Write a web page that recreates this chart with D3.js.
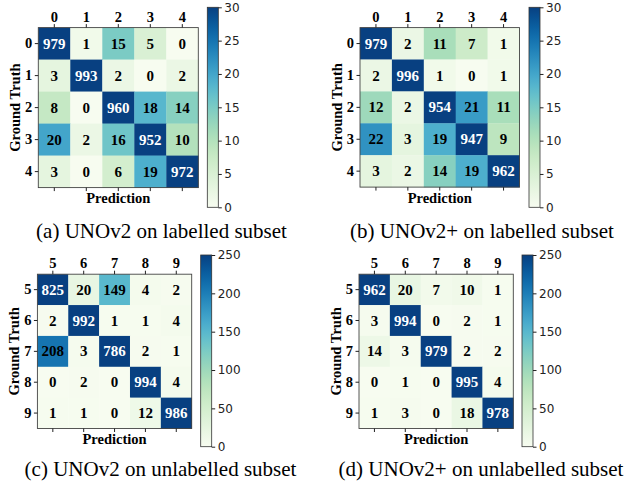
<!DOCTYPE html>
<html>
<head>
<meta charset="utf-8">
<script src="https://cdn.jsdelivr.net/npm/d3@7"></script>
<style>
  body { margin: 0; background: #fff; }
  svg { display: block; }
  .serif { font-family: "Liberation Serif", "Times New Roman", serif; }
  .cbar text { font-family: "DejaVu Sans", sans-serif; font-size: 12px; fill: #222; }
  .cbar line { stroke: #222; }
  .mat .tick line { stroke: #222; }
  .mat .domain { display: none; }
</style>
</head>
<body>
<svg width="629" height="481"></svg>
<script>
var labelsLabelled = ["0", "1", "2", "3", "4"];
var labelsUnlabelled = ["5", "6", "7", "8", "9"];

var cmA = [[979, 1, 15, 5, 0], [3, 993, 2, 0, 2], [8, 0, 960, 18, 14], [20, 2, 16, 952, 10], [3, 0, 6, 19, 972]];
var cmB = [[979, 2, 11, 7, 1], [2, 996, 1, 0, 1], [12, 2, 954, 21, 11], [22, 3, 19, 947, 9], [3, 2, 14, 19, 962]];
var cmC = [[825, 20, 149, 4, 2], [2, 992, 1, 1, 4], [208, 3, 786, 2, 1], [0, 2, 0, 994, 4], [1, 1, 0, 12, 986]];
var cmD = [[962, 20, 7, 10, 1], [3, 994, 0, 2, 1], [14, 3, 979, 2, 2], [0, 1, 0, 995, 4], [1, 3, 0, 18, 978]];

var vmaxLabelled = 30, vmaxUnlabelled = 250;
var ticksLabelled = [0, 5, 10, 15, 20, 25, 30];
var ticksUnlabelled = [0, 50, 100, 150, 200, 250];

var captions = ["(a) UNOv2 on labelled subset", "(b) UNOv2+ on labelled subset",
                "(c) UNOv2 on unlabelled subset", "(d) UNOv2+ on unlabelled subset"];

var panels = [
  {cm: cmA, labels: labelsLabelled, vmax: vmaxLabelled, ticks: ticksLabelled, caption: captions[0],
   x: 38.3, y: 27.6, size: 160, cbX: 207.3, cbY: 7.3, cbH: 200, capX: 161.5, capY: 238},
  {cm: cmB, labels: labelsLabelled, vmax: vmaxLabelled, ticks: ticksLabelled, caption: captions[1],
   x: 360, y: 27.6, size: 159.5, cbX: 529, cbY: 7.3, cbH: 200, capX: 482, capY: 238},
  {cm: cmC, labels: labelsUnlabelled, vmax: vmaxUnlabelled, ticks: ticksUnlabelled, caption: captions[2],
   x: 37.4, y: 274.2, size: 154.3, cbX: 200.7, cbY: 255, cbH: 191.7, capX: 160.5, capY: 476},
  {cm: cmD, labels: labelsUnlabelled, vmax: vmaxUnlabelled, ticks: ticksUnlabelled, caption: captions[3],
   x: 359, y: 274.2, size: 154.3, cbX: 522, cbY: 255, cbH: 191.7, capX: 481, capY: 476}
];

var svg = d3.select("svg");
var defs = svg.append("defs");
var grad = defs.append("linearGradient")
    .attr("id", "gnbu").attr("x1", 0).attr("y1", 1).attr("x2", 0).attr("y2", 0);
d3.range(0, 1.0001, 0.05).forEach(function(t) {
  grad.append("stop").attr("offset", t).attr("stop-color", d3.interpolateGnBu(t));
});

panels.forEach(function(p) {
  var n = p.labels.length;
  var color = d3.scaleSequential(d3.interpolateGnBu).domain([0, p.vmax]).clamp(true);
  var x = d3.scaleBand().domain(p.labels).range([0, p.size]);
  var y = d3.scaleBand().domain(p.labels).range([0, p.size]);
  var maxVal = d3.max(p.cm, function(r) { return d3.max(r); });

  var cells = [];
  p.cm.forEach(function(row, i) {
    row.forEach(function(v, j) { cells.push({r: p.labels[i], c: p.labels[j], v: v}); });
  });

  var g = svg.append("g").attr("class", "mat serif")
      .attr("transform", "translate(" + p.x + "," + p.y + ")");

  g.selectAll(".cell").data(cells).enter().append("rect")
      .attr("x", function(d) { return x(d.c); })
      .attr("y", function(d) { return y(d.r); })
      .attr("width", x.bandwidth() + 0.3)
      .attr("height", y.bandwidth() + 0.3)
      .attr("fill", function(d) { return color(d.v); });

  g.selectAll(".val").data(cells).enter().append("text")
      .attr("x", function(d) { return x(d.c) + x.bandwidth() / 2; })
      .attr("y", function(d) { return y(d.r) + y.bandwidth() / 2; })
      .attr("dy", "0.34em")
      .attr("text-anchor", "middle")
      .style("font-size", "15px").style("font-weight", "bold")
      .attr("fill", function(d) { return d.v > maxVal / 2 ? "#fff" : "#000"; })
      .text(function(d) { return d.v; });

  g.append("rect")
      .attr("width", p.size).attr("height", p.size)
      .attr("fill", "none").attr("stroke", "#444").attr("stroke-width", 0.9);

  var fontCss = function(sel) {
    sel.selectAll("text").style("font-family", "Liberation Serif, serif")
      .style("font-size", "14.5px").style("font-weight", "bold").attr("fill", "#000");
  };

  g.append("g").call(d3.axisTop(x).tickSize(3.5).tickPadding(2.5)).call(fontCss);
  g.append("g").call(d3.axisLeft(y).tickSize(3.5).tickPadding(2.5)).call(fontCss);
  g.append("g").attr("transform", "translate(0," + p.size + ")")
      .call(d3.axisBottom(x).tickSize(3.5).tickFormat(""));

  g.append("text")
      .attr("transform", "translate(" + (-18.5) + "," + (p.size / 2) + ") rotate(-90)")
      .attr("text-anchor", "middle")
      .style("font-size", "14.5px").style("font-weight", "bold")
      .text("Ground Truth");

  g.append("text")
      .attr("x", p.size / 2).attr("y", p.size + 15.5)
      .attr("text-anchor", "middle")
      .style("font-size", "14.5px").style("font-weight", "bold")
      .text("Prediction");

  // colorbar
  var cb = svg.append("g").attr("class", "cbar")
      .attr("transform", "translate(" + p.cbX + "," + p.cbY + ")");
  cb.append("rect").attr("width", 11).attr("height", p.cbH).attr("fill", "url(#gnbu)");
  cb.append("rect").attr("width", 11).attr("height", p.cbH)
      .attr("fill", "none").attr("stroke", "#333").attr("stroke-width", 0.8);
  var cy = d3.scaleLinear().domain([0, p.vmax]).range([p.cbH, 0]);
  cb.append("g").attr("transform", "translate(11,0)")
      .call(d3.axisRight(cy).tickValues(p.ticks).tickSize(3.5).tickPadding(2.5))
      .call(function(s) { s.select(".domain").remove(); });

  svg.append("text").attr("class", "serif")
      .attr("x", p.capX).attr("y", p.capY)
      .attr("text-anchor", "middle")
      .style("font-size", "21px")
      .text(p.caption);
});
</script>
</body>
</html>
